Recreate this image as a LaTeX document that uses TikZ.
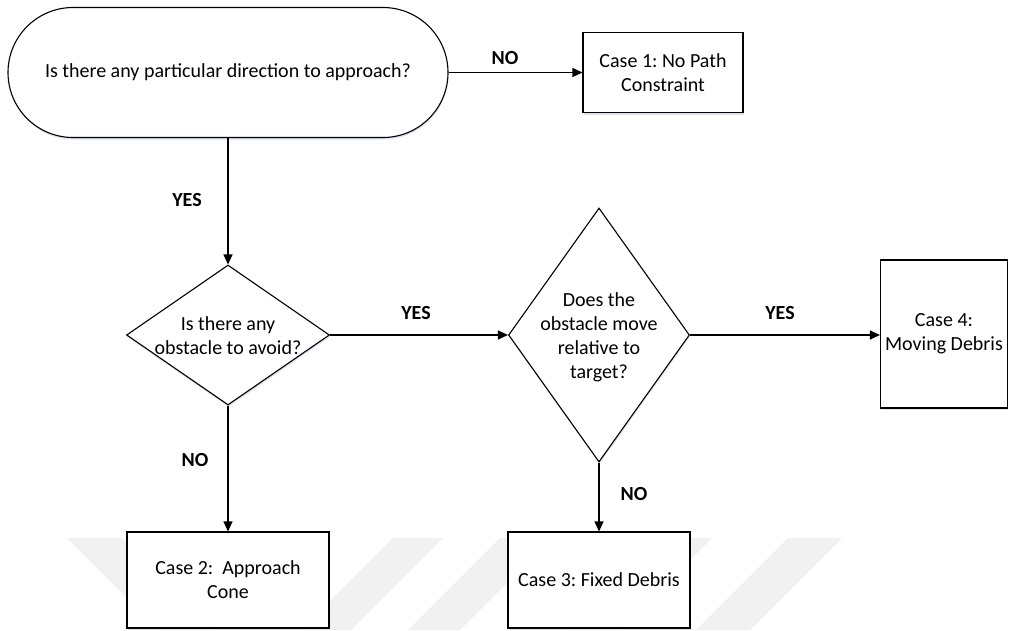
\documentclass[tikz,border=0pt]{standalone}
\usepackage{fontspec}
\setmainfont{Carlito}
\frenchspacing
\usetikzlibrary{shapes.geometric,arrows.meta,shadows}
\definecolor{shadowc}{RGB}{218,228,242}
\definecolor{wmc}{RGB}{241,241,241}
\begin{document}
\begin{tikzpicture}[x=1pt,y=-1pt,
  every node/.style={font=\fontsize{20}{24}\selectfont},
  shd/.style={drop shadow={shadow xshift=0.5pt,shadow yshift=-2pt,fill=shadowc,opacity=1}},
  boxnode/.style={draw,fill=white,line width=1.1pt,rectangle,inner sep=0pt,align=center,shd},
  termnode/.style={boxnode,rounded corners=65pt},
  decnode/.style={draw,fill=white,line width=1.1pt,diamond,inner sep=0pt,shd},
  txt/.style={align=center,inner sep=0pt},
  lbl/.style={font=\fontsize{20}{24}\selectfont\bfseries,inner sep=0pt},
  conn/.style={line width=1.2pt,-{Triangle[length=10pt,width=9pt]}},
  wm/.style={fill=wmc,draw=none}]
\useasboundingbox (0,0) rectangle (1009,630);
% faint watermark bands
\fill[wm] (67,538) -- (122,538) -- (214,630) -- (159,630) -- cycle;
\fill[wm] (393,538) -- (443,538) -- (351,630) -- (301,630) -- cycle;
\fill[wm] (500,538) -- (552,538) -- (460,630) -- (408,630) -- cycle;
\fill[wm] (660,538) -- (712,538) -- (620,630) -- (568,630) -- cycle;
\fill[wm] (788,538) -- (842,538) -- (750,630) -- (696,630) -- cycle;
% nodes
\node[termnode,minimum width=440pt,minimum height=130pt] (t) at (228,72.5) {Is there any particular direction to approach?};
\node[boxnode,minimum width=160pt,minimum height=80pt] (c1) at (663,72.5) {Case 1: No Path\\Constraint};
\node[decnode,minimum width=203pt,minimum height=140pt] (d1) at (228,335) {};
\node[txt] (d1t) at (228,336) {Is there any\\obstacle to avoid?};
\node[decnode,minimum width=181pt,minimum height=254pt] (d2) at (599,335) {};
\node[txt] (d2t) at (599,337) {Does the\\obstacle move\\relative to\\target?};
\node[boxnode,minimum width=127pt,minimum height=148pt] (c4) at (944,334) {Case 4:\\Moving Debris};
\node[boxnode,minimum width=202pt,minimum height=96pt] (c2) at (228,580) {Case 2:~ Approach\\Cone};
\node[boxnode,minimum width=182pt,minimum height=96pt] (c3) at (599,580) {Case 3: Fixed Debris};
% connectors
\draw[conn] (t.east) -- (c1.west);
\draw[conn] (t.south) -- (d1.north);
\draw[conn] (d1.east) -- (d2.west);
\draw[conn] (d2.east) -- (c4.west |- d2.east);
\draw[conn] (d1.south) -- (c2.north);
\draw[conn] (d2.south) -- (c3.north);
% labels
\node[lbl] (lno1) at (505,58) {NO};
\node[lbl] (lyes1) at (187,200) {YES};
\node[lbl] (lyes2) at (416,313) {YES};
\node[lbl] (lyes3) at (780,313) {YES};
\node[lbl] (lno2) at (195,460) {NO};
\node[lbl] (lno3) at (634,494) {NO};
\end{tikzpicture}
\end{document}
